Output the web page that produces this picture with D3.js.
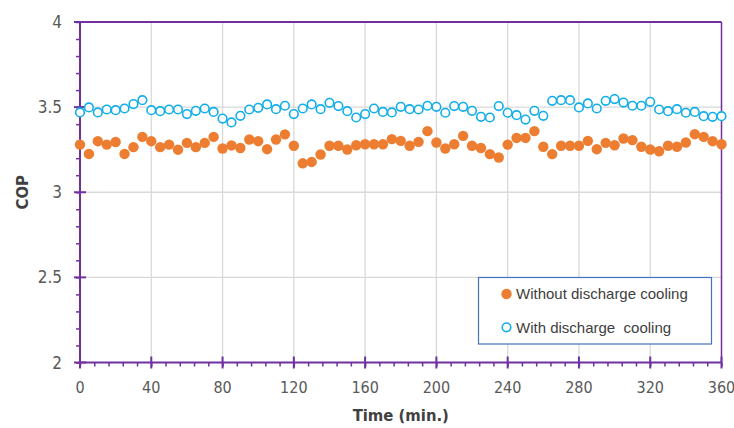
<!DOCTYPE html>
<html>
<head>
<meta charset="utf-8">
<script src="https://cdn.jsdelivr.net/npm/d3@7"></script>
<style>
  body { margin: 0; background: #fff; }
  svg { display: block; }
  .tick-label { font-family: "DejaVu Sans Condensed", "DejaVu Sans", sans-serif; font-stretch: condensed; font-size: 17px; fill: #595959; }
  .x-label { font-size: 16px; }
  .axis-title { font-family: "DejaVu Sans Condensed", "DejaVu Sans", sans-serif; font-stretch: condensed; font-size: 16.5px; font-weight: bold; fill: #404040; }
  .legend-text { font-family: "Liberation Sans", Arial, sans-serif; font-size: 15px; fill: #404040; }
</style>
</head>
<body>
<div id="chart"></div>
<script>
const width = 734;
const height = 428;

const time = [0, 5, 10, 15, 20, 25, 30, 35, 40, 45, 50, 55, 60, 65, 70, 75, 80, 85, 90, 95,
              100, 105, 110, 115, 120, 125, 130, 135, 140, 145, 150, 155, 160, 165, 170, 175, 180, 185, 190, 195,
              200, 205, 210, 215, 220, 225, 230, 235, 240, 245, 250, 255, 260, 265, 270, 275, 280, 285, 290, 295,
              300, 305, 310, 315, 320, 325, 330, 335, 340, 345, 350, 355, 360];

const withoutCooling = [3.28, 3.225, 3.30, 3.28, 3.295, 3.225, 3.265, 3.325, 3.30, 3.265, 3.28, 3.25, 3.29, 3.265, 3.29, 3.325, 3.257, 3.275, 3.26, 3.31,
                        3.30, 3.253, 3.31, 3.34, 3.273, 3.17, 3.178, 3.222, 3.273, 3.273, 3.251, 3.276, 3.282, 3.282, 3.282, 3.312, 3.302, 3.273, 3.296, 3.359,
                        3.292, 3.257, 3.282, 3.331, 3.273, 3.26, 3.224, 3.204, 3.28, 3.319, 3.319, 3.359, 3.267, 3.224, 3.273, 3.273, 3.273, 3.302, 3.253, 3.29,
                        3.276, 3.316, 3.306, 3.267, 3.251, 3.241, 3.273, 3.267, 3.292, 3.341, 3.325, 3.30, 3.282];

const withCooling = [3.469, 3.498, 3.469, 3.486, 3.482, 3.492, 3.518, 3.541, 3.482, 3.476, 3.486, 3.486, 3.459, 3.478, 3.492, 3.472, 3.433, 3.41, 3.449, 3.486,
                     3.496, 3.516, 3.488, 3.508, 3.459, 3.492, 3.516, 3.488, 3.525, 3.506, 3.476, 3.439, 3.459, 3.492, 3.472, 3.469, 3.502, 3.488, 3.486, 3.508,
                     3.502, 3.467, 3.506, 3.502, 3.478, 3.443, 3.439, 3.506, 3.467, 3.453, 3.427, 3.478, 3.449, 3.537, 3.541, 3.541, 3.498, 3.522, 3.492, 3.537,
                     3.547, 3.527, 3.508, 3.508, 3.531, 3.486, 3.476, 3.488, 3.467, 3.472, 3.447, 3.443, 3.447];

const xTicks = [0, 40, 80, 120, 160, 200, 240, 280, 320, 360];
const yTicks = [2, 2.5, 3, 3.5, 4];
const legendLabels = ["Without discharge cooling", "With discharge  cooling"];

const orange = "#ed7d31";
const blue = "#12aee9";
const purple = "#7030a0";

const svg = d3.select("#chart")
              .append("svg")
              .attr("width", width)
              .attr("height", height);

const x = d3.scaleLinear().domain([0, 360]).range([80, 721.5]);
const y = d3.scaleLinear().domain([2, 4]).range([362.5, 22]);

// gridlines
svg.append("g")
   .selectAll("line")
   .data(xTicks.slice(1, -1))
   .enter()
   .append("line")
   .attr("x1", d => x(d)).attr("x2", d => x(d))
   .attr("y1", y(2)).attr("y2", y(4))
   .attr("stroke", "#d9d9d9")
   .attr("stroke-width", 1.3);

svg.append("g")
   .selectAll("line")
   .data(yTicks.slice(1, -1))
   .enter()
   .append("line")
   .attr("x1", x(0)).attr("x2", x(360))
   .attr("y1", d => y(d)).attr("y2", d => y(d))
   .attr("stroke", "#d9d9d9")
   .attr("stroke-width", 1.3);

// frame: top and right borders
svg.append("line")
   .attr("x1", x(0)).attr("x2", x(360))
   .attr("y1", y(4)).attr("y2", y(4))
   .attr("stroke", purple).attr("stroke-width", 2);

svg.append("line")
   .attr("x1", x(360)).attr("x2", x(360))
   .attr("y1", y(4)).attr("y2", y(2))
   .attr("stroke", purple).attr("stroke-width", 1.5);

// y axis with minor ticks
const yAxis = svg.append("g").attr("transform", `translate(${x(0)},0)`);

yAxis.call(d3.axisLeft(y).ticks(20).tickSize(4).tickFormat(""))
     .call(g => g.select(".domain").remove())
     .selectAll("line")
     .attr("stroke", purple)
     .attr("stroke-width", 1.5);

yAxis.selectAll(".major")
     .data(yTicks)
     .enter()
     .append("line")
     .attr("x1", -6).attr("x2", 6)
     .attr("y1", d => y(d)).attr("y2", d => y(d))
     .attr("stroke", purple)
     .attr("stroke-width", 2);

yAxis.append("line")
     .attr("y1", y(2)).attr("y2", y(4))
     .attr("stroke", purple)
     .attr("stroke-width", 2);

yAxis.selectAll(".tick-label")
     .data(yTicks)
     .enter()
     .append("text")
     .attr("class", "tick-label")
     .attr("x", -18)
     .attr("y", d => y(d))
     .attr("dy", "0.36em")
     .attr("text-anchor", "end")
     .text(d => d);

// x axis with minor ticks
const xAxis = svg.append("g").attr("transform", `translate(0,${y(2)})`);

xAxis.call(d3.axisBottom(x).tickValues(d3.range(0, 361, 8)).tickSize(4).tickFormat(""))
     .call(g => g.select(".domain").remove())
     .selectAll("line")
     .attr("stroke", purple)
     .attr("stroke-width", 1.5);

xAxis.selectAll(".major")
     .data(xTicks)
     .enter()
     .append("line")
     .attr("x1", d => x(d)).attr("x2", d => x(d))
     .attr("y1", -6).attr("y2", 6)
     .attr("stroke", purple)
     .attr("stroke-width", 2);

xAxis.append("line")
     .attr("x1", x(0) - 1).attr("x2", x(360))
     .attr("stroke", purple)
     .attr("stroke-width", 2);

xAxis.selectAll(".tick-label")
     .data(xTicks)
     .enter()
     .append("text")
     .attr("class", "tick-label x-label")
     .attr("x", d => x(d))
     .attr("y", 30.5)
     .attr("text-anchor", "middle")
     .text(d => d);

// axis titles
svg.append("text")
   .attr("class", "axis-title")
   .attr("transform", `translate(28,${(y(2) + y(4)) / 2}) rotate(-90)`)
   .attr("text-anchor", "middle")
   .text("COP");

svg.append("text")
   .attr("class", "axis-title")
   .attr("x", (x(0) + x(360)) / 2)
   .attr("y", 421)
   .attr("text-anchor", "middle")
   .text("Time (min.)");

// series
svg.append("g")
   .selectAll("circle")
   .data(time)
   .enter()
   .append("circle")
   .attr("cx", d => x(d))
   .attr("cy", (d, i) => y(withoutCooling[i]))
   .attr("r", 5.2)
   .attr("fill", orange);

svg.append("g")
   .selectAll("circle")
   .data(time)
   .enter()
   .append("circle")
   .attr("cx", d => x(d))
   .attr("cy", (d, i) => y(withCooling[i]))
   .attr("r", 4.3)
   .attr("fill", "#fff")
   .attr("stroke", blue)
   .attr("stroke-width", 1.6);

// legend
const legend = svg.append("g").attr("transform", "translate(478.5,277.5)");

legend.append("rect")
      .attr("width", 233)
      .attr("height", 66.5)
      .attr("fill", "#fff")
      .attr("stroke", "#4472c4")
      .attr("stroke-width", 1.2);

const item = legend.selectAll(".item")
                   .data(legendLabels)
                   .enter()
                   .append("g")
                   .attr("transform", (d, i) => `translate(28,${16.5 + i * 33.3})`);

item.append("circle")
    .attr("r", (d, i) => i === 0 ? 5.2 : 4.3)
    .attr("fill", (d, i) => i === 0 ? orange : "#fff")
    .attr("stroke", (d, i) => i === 0 ? "none" : blue)
    .attr("stroke-width", 1.6);

item.append("text")
    .attr("class", "legend-text")
    .attr("x", 9.5)
    .attr("dy", "0.36em")
    .style("white-space", "pre")
    .text(d => d);
</script>
</body>
</html>
